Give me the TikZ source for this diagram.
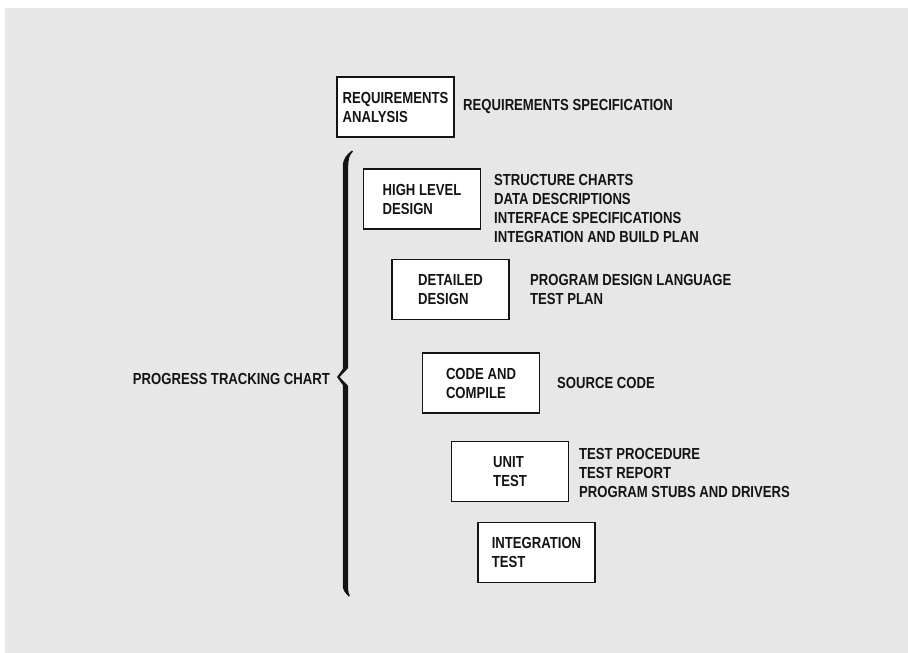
\documentclass[tikz,border=0pt]{standalone}
\usepackage{fontspec}
\setmainfont{Liberation Sans}[FakeStretch=0.82]
\usepackage{tikz}
\usetikzlibrary{positioning}
\definecolor{paper}{HTML}{E7E7E7}
\definecolor{ink}{HTML}{141414}

\begin{document}
\begin{tikzpicture}[x=1pt,y=-1pt,
  phase/.style={draw=ink,fill=white,line width=1.8pt,minimum width=117pt,
    minimum height=60pt,inner sep=2pt,align=left,text=ink,
    font=\bfseries\fontsize{16}{19}\selectfont},
  output/.style={anchor=west,align=left,inner sep=0pt,text=ink,
    font=\bfseries\fontsize{16}{19}\selectfont}]
  \useasboundingbox (0,0) rectangle (908,653);
  \fill[white] (0,0) rectangle (908,653);
  \fill[paper] (5,8) rectangle (908,653);

  % phases and what each one delivers
  \node[phase] (req) at (395.5,107) {REQUIREMENTS\\ANALYSIS};
  \node[output] (reqout) at (463,106) {REQUIREMENTS SPECIFICATION};
  \node[phase] (hld) at (422,199) {HIGH LEVEL\\DESIGN};
  \node[output] (hldout) at (494,208)
    {STRUCTURE CHARTS\\DATA DESCRIPTIONS\\INTERFACE SPECIFICATIONS\\INTEGRATION AND BUILD PLAN};
  \node[phase] (dd) at (450.5,289.5) {DETAILED\\DESIGN};
  \node[output] (ddout) at (530,289) {PROGRAM DESIGN LANGUAGE\\TEST PLAN};
  \node[phase] (code) at (481,383) {CODE AND\\COMPILE};
  \node[output] (codeout) at (557,383) {SOURCE CODE};
  \node[phase] (unit) at (510,471.5) {UNIT\\TEST};
  \node[output] (unitout) at (579,473) {TEST PROCEDURE\\TEST REPORT\\PROGRAM STUBS AND DRIVERS};
  \node[phase] (integ) at (536.5,552.5) {INTEGRATION\\TEST};

  % brace
  \fill[ink] (352,150.5) .. controls (346,155) and (342.8,159) .. (342.8,167)
    -- (342.8,369) -- (337,377) -- (342.8,385) -- (342.8,586)
    .. controls (342.8,590) and (345,593) .. (349,596.5)
    -- (349.8,595.5) .. controls (347.8,592) and (348.2,589) .. (348.2,584)
    -- (348.2,386) -- (339.6,377) -- (348.2,368) -- (348.2,168)
    .. controls (348.2,160) and (349,155) .. (353,151.6) -- cycle;
  \node[output,anchor=east] (chart) at (330,379) {PROGRESS TRACKING CHART};
\end{tikzpicture}
\end{document}
